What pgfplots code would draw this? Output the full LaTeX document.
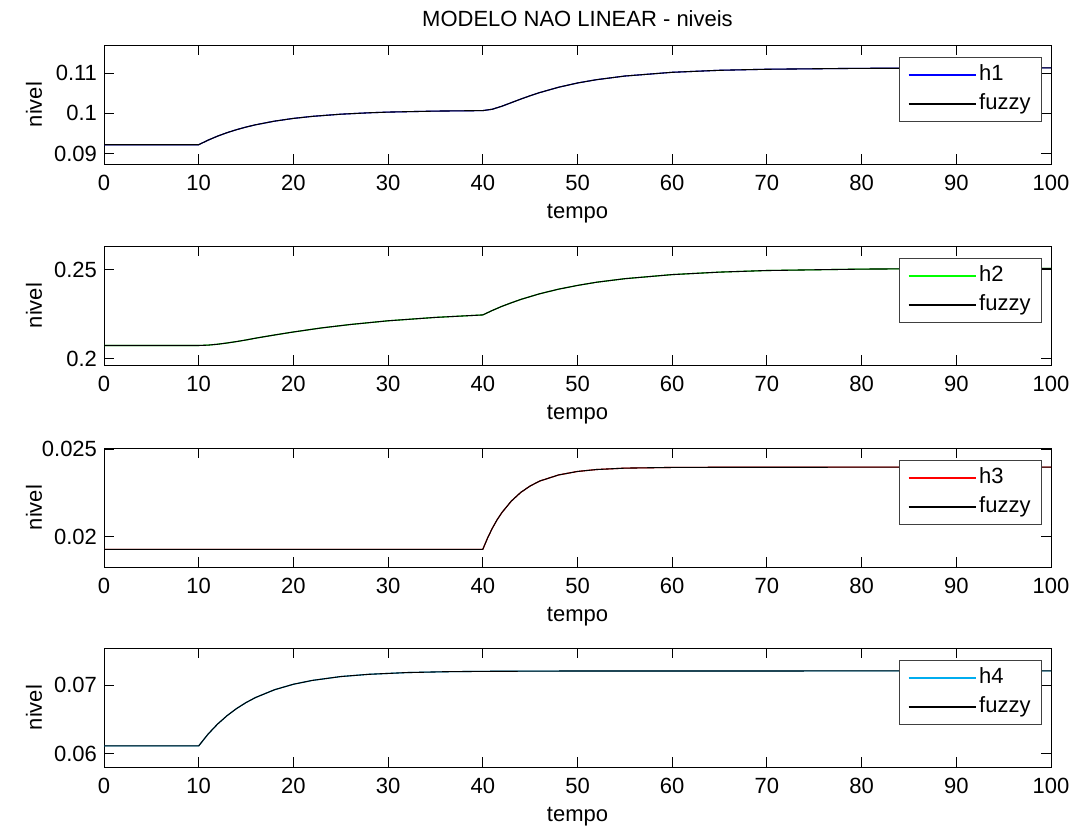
\documentclass[border=0pt]{standalone}
\usepackage{fontspec}
\setmainfont{Liberation Sans}
\usepackage{pgfplots}
\usepackage{pgfplotstable}
\pgfplotsset{compat=1.18}

% niveis h1..h4 (modelo) e fuzzy
\pgfplotstableread{
t h fuzzy
0 0.0922 0.0922
10 0.0922 0.0922
11 0.09334 0.09334
12 0.09434 0.09434
13 0.09520 0.09520
14 0.09594 0.09594
15 0.09659 0.09659
16 0.09715 0.09715
18 0.09806 0.09806
20 0.09874 0.09874
22 0.09925 0.09925
25 0.09979 0.09979
28 0.10014 0.10014
30 0.10031 0.10031
35 0.10056 0.10056
40 0.10068 0.10068
41 0.10102 0.10102
42 0.10176 0.10176
43 0.10265 0.10265
44 0.10354 0.10354
45 0.10438 0.10438
46 0.10516 0.10516
48 0.10649 0.10649
50 0.10755 0.10755
52 0.10837 0.10837
55 0.10928 0.10928
60 0.11021 0.11021
65 0.11071 0.11071
70 0.11097 0.11097
80 0.11120 0.11120
90 0.11125 0.11125
100 0.11130 0.11130
}\tabA

\pgfplotstableread{
t h fuzzy
0 0.2073 0.2073
10 0.2073 0.2073
11 0.2075 0.2075
12 0.2080 0.2080
13 0.2087 0.2087
14 0.2095 0.2095
15 0.2104 0.2104
16 0.2114 0.2114
18 0.2132 0.2132
20 0.2149 0.2149
23 0.2172 0.2172
26 0.2191 0.2191
30 0.2212 0.2212
35 0.2231 0.2231
40 0.2245 0.2245
41 0.2270 0.2270
42 0.2293 0.2293
43 0.2313 0.2313
44 0.2332 0.2332
45 0.2348 0.2348
46 0.2364 0.2364
48 0.2390 0.2390
50 0.2411 0.2411
52 0.2429 0.2429
55 0.2449 0.2449
60 0.2472 0.2472
65 0.2486 0.2486
70 0.2495 0.2495
80 0.2503 0.2503
90 0.2506 0.2506
100 0.2507 0.2507
}\tabB

\pgfplotstableread{
t h fuzzy
0 0.01929 0.01929
40 0.01929 0.01929
40.5 0.01993 0.01993
41 0.02049 0.02049
41.5 0.02097 0.02097
42 0.02138 0.02138
43 0.02204 0.02204
44 0.02254 0.02254
45 0.02291 0.02291
46 0.02319 0.02319
48 0.02354 0.02354
50 0.02374 0.02374
52 0.02385 0.02385
55 0.02393 0.02393
60 0.02397 0.02397
65 0.02398 0.02398
100 0.02399 0.02399
}\tabC

\pgfplotstableread{
t h fuzzy
0 0.06117 0.06117
10 0.06117 0.06117
11 0.06290 0.06290
12 0.06435 0.06435
13 0.06557 0.06557
14 0.06660 0.06660
15 0.06747 0.06747
16 0.06820 0.06820
18 0.06933 0.06933
20 0.07013 0.07013
22 0.07069 0.07069
25 0.07125 0.07125
28 0.07158 0.07158
32 0.07183 0.07183
36 0.07195 0.07195
40 0.07201 0.07201
50 0.07206 0.07206
100 0.07207 0.07207
}\tabD

\newcommand{\fnt}{\fontsize{11bp}{13bp}\selectfont}

\pgfplotsset{
  sub/.style={
    scale only axis, width=473.5bp, height=59.5bp,
    anchor=north west,
    xmin=0, xmax=100, xtick={0,10,...,100},
    tick align=inside, major tick length=5bp,
    axis line style={line width=0.5bp},
    tick style={line width=0.5bp, black},
    font=\fnt,
    /pgf/number format/assume math mode=true,
    scaled y ticks=false,
    yticklabel style={/pgf/number format/fixed, /pgf/number format/precision=3},
    xticklabel style={yshift=-2bp},
    xlabel={tempo}, ylabel={nivel},
    xlabel style={at={(axis description cs:0.5,-0.462)}, anchor=base, inner sep=0pt},
    ylabel style={at={(axis description cs:-0.0655,0.5)}, anchor=base, inner sep=0pt},
    every axis plot/.append style={line width=0.55bp},
    legend cell align=left,
    legend image code/.code={\draw[##1, line width=0.65bp] (0bp,0bp) -- (33.5bp,0bp);},
    legend style={at={(1,1)}, anchor=north east, xshift=-4.5bp, yshift=-6bp,
      draw=black!75, line width=0.5bp, font=\fnt,
      inner xsep=4bp, inner ysep=2bp, row sep=1bp,
      nodes={inner sep=1.5bp, text height=8bp, text depth=2.5bp}},
  }
}

\begin{document}
\begin{tikzpicture}
\useasboundingbox (0,0) rectangle (537.5bp,-413.5bp);

\begin{axis}[sub, at={(52bp,-22.5bp)},
  ymin=0.0874, ymax=0.1170, ytick={0.09,0.1,0.11},
  title={MODELO NAO LINEAR - niveis},
  title style={at={(axis description cs:0.5,1.059)}, anchor=base, inner sep=0pt}]
\addplot[blue] table[x=t, y=h] {\tabA};
\addplot[black] table[x=t, y=fuzzy] {\tabA};
\legend{h1, fuzzy}
\end{axis}

\begin{axis}[sub, at={(52bp,-123bp)},
  ymin=0.1963, ymax=0.2633, ytick={0.2,0.25}]
\addplot[green] table[x=t, y=h] {\tabB};
\addplot[black] table[x=t, y=fuzzy] {\tabB};
\legend{h2, fuzzy}
\end{axis}

\begin{axis}[sub, at={(52bp,-224bp)},
  ymin=0.01828, ymax=0.02508, ytick={0.02,0.025}]
\addplot[red] table[x=t, y=h] {\tabC};
\addplot[black] table[x=t, y=fuzzy] {\tabC};
\legend{h3, fuzzy}
\end{axis}

\begin{axis}[sub, at={(52bp,-324bp)},
  ymin=0.0581, ymax=0.0754, ytick={0.06,0.07}]
\addplot[cyan] table[x=t, y=h] {\tabD};
\addplot[black] table[x=t, y=fuzzy] {\tabD};
\legend{h4, fuzzy}
\end{axis}
\end{tikzpicture}
\end{document}
